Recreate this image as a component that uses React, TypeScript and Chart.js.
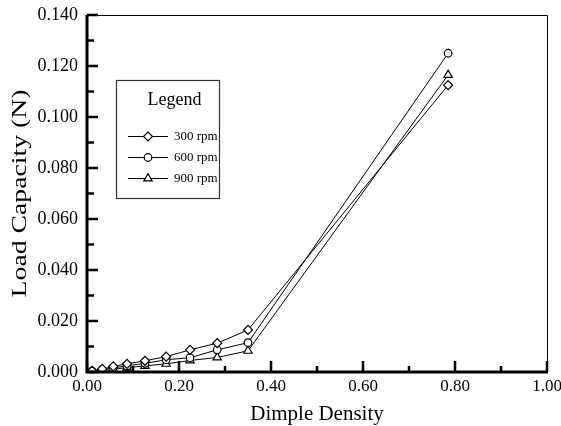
import React, { useEffect, useRef } from 'react';
import { Chart, registerables } from 'chart.js';

Chart.register(...registerables);

const densities = [0.011, 0.033, 0.057, 0.087, 0.126, 0.172, 0.224, 0.283, 0.35, 0.785];
const load300 = [0.0005, 0.0012, 0.0022, 0.0032, 0.0044, 0.006, 0.0087, 0.0113, 0.0165, 0.1125];
const load600 = [0.0003, 0.0009, 0.0016, 0.0024, 0.0034, 0.0048, 0.0056, 0.0087, 0.0115, 0.125];
const load900 = [0.0002, 0.0006, 0.0011, 0.0017, 0.0024, 0.0032, 0.0045, 0.0057, 0.0083, 0.1165];
const seriesLabels = ['300 rpm', '600 rpm', '900 rpm'];
const seriesMarkers = ['rectRot', 'circle', 'triangle'];
const markerRadius = [4.5, 3.8, 4.8];

const xTickValues = [0, 0.2, 0.4, 0.6, 0.8, 1.0];
const xMinorValues = [0.1, 0.3, 0.5, 0.7, 0.9];
const yTickValues = [0, 0.02, 0.04, 0.06, 0.08, 0.1, 0.12, 0.14];
const yMinorValues = [0.01, 0.03, 0.05, 0.07, 0.09, 0.11, 0.13];

const xTitle = 'Dimple Density';
const yTitle = 'Load Capacity (N)';
const legendTitle = 'Legend';

const FONT = "'Liberation Serif', 'Times New Roman', serif";

function drawMarker(ctx: CanvasRenderingContext2D, style: string, x: number, y: number, r: number) {
  ctx.beginPath();
  if (style === 'circle') {
    ctx.arc(x, y, r, 0, Math.PI * 2);
  } else if (style === 'rectRot') {
    ctx.moveTo(x, y - r);
    ctx.lineTo(x + r, y);
    ctx.lineTo(x, y + r);
    ctx.lineTo(x - r, y);
    ctx.closePath();
  } else {
    const h = r * 1.5;
    ctx.moveTo(x, y - r);
    ctx.lineTo(x + r * 0.87, y + h - r);
    ctx.lineTo(x - r * 0.87, y + h - r);
    ctx.closePath();
  }
  ctx.fill();
  ctx.stroke();
}

const framePlugin = {
  id: 'frame',
  afterDraw(chart: any) {
    const ctx = chart.ctx;
    const { left, right, top, bottom } = chart.chartArea;
    const xs = chart.scales.x;
    const ys = chart.scales.y;
    ctx.save();
    ctx.strokeStyle = '#000';
    ctx.fillStyle = '#000';
    ctx.lineWidth = 1;
    ctx.beginPath();
    ctx.moveTo(left, top + 0.5);
    ctx.lineTo(right + 0.5, top + 0.5);
    ctx.lineTo(right + 0.5, bottom);
    ctx.stroke();
    ctx.lineWidth = 3;
    ctx.beginPath();
    ctx.moveTo(left, top);
    ctx.lineTo(left, bottom);
    ctx.lineTo(right + 1, bottom);
    ctx.stroke();
    ctx.lineWidth = 2.5;
    yTickValues.forEach((v) => {
      const p = ys.getPixelForValue(v);
      ctx.beginPath();
      ctx.moveTo(left, p);
      ctx.lineTo(left + 11, p);
      ctx.stroke();
    });
    yMinorValues.forEach((v) => {
      const p = ys.getPixelForValue(v);
      ctx.beginPath();
      ctx.moveTo(left, p);
      ctx.lineTo(left + 7, p);
      ctx.stroke();
    });
    xTickValues.forEach((v) => {
      const p = xs.getPixelForValue(v);
      ctx.beginPath();
      ctx.moveTo(p, bottom);
      ctx.lineTo(p, bottom - 11);
      ctx.stroke();
    });
    xMinorValues.forEach((v) => {
      const p = xs.getPixelForValue(v);
      ctx.beginPath();
      ctx.moveTo(p, bottom);
      ctx.lineTo(p, bottom - 6);
      ctx.stroke();
    });

    ctx.textAlign = 'center';
    ctx.textBaseline = 'alphabetic';
    ctx.font = `21px ${FONT}`;
    ctx.fillText(xTitle, (left + right) / 2, 420);
    ctx.save();
    ctx.translate(26, (top + bottom) / 2);
    ctx.rotate(-Math.PI / 2);
    ctx.scale(1.32, 1);
    ctx.fillText(yTitle, 0, 0);
    ctx.restore();

    const bx = 116, by = 80, bw = 103, bh = 118;
    ctx.lineWidth = 1.2;
    ctx.strokeStyle = '#333';
    ctx.fillStyle = '#fff';
    ctx.fillRect(bx, by, bw, bh);
    ctx.strokeRect(bx + 0.5, by + 0.5, bw, bh);
    ctx.fillStyle = '#000';
    ctx.strokeStyle = '#000';
    ctx.font = `18px ${FONT}`;
    ctx.textAlign = 'center';
    ctx.fillText(legendTitle, bx + bw / 2 + 7, 105);
    ctx.font = `13px ${FONT}`;
    ctx.textAlign = 'left';
    ctx.textBaseline = 'middle';
    const rowY = [136, 157, 178];
    chart.data.datasets.forEach((ds: any, i: number) => {
      const y = rowY[i];
      ctx.lineWidth = 1;
      ctx.beginPath();
      ctx.moveTo(128, y + 0.5);
      ctx.lineTo(168, y + 0.5);
      ctx.stroke();
      ctx.fillStyle = '#fff';
      ctx.lineWidth = 1.2;
      drawMarker(ctx, ds.pointStyle, 148, y + 0.5, ds.pointRadius);
      ctx.fillStyle = '#000';
      ctx.fillText(ds.label, 174, y + 1);
    });
    ctx.restore();
  },
};

export default function App() {
  const ref = useRef<HTMLCanvasElement | null>(null);
  useEffect(() => {
    if (!ref.current) return;
    const series = [load300, load600, load900];
    const chart = new Chart(ref.current, {
      type: 'line',
      data: {
        datasets: series.map((vals, i) => ({
          label: seriesLabels[i],
          data: densities.map((d, j) => ({ x: d, y: vals[j] })),
          borderColor: '#000',
          borderWidth: 1,
          backgroundColor: '#fff',
          pointBackgroundColor: '#fff',
          pointBorderColor: '#000',
          pointBorderWidth: 1.2,
          pointStyle: seriesMarkers[i],
          pointRadius: markerRadius[i],
          tension: 0,
          fill: false,
        })),
      },
      options: {
        animation: false,
        responsive: false,
        events: [],
        layout: { padding: { left: 0, right: 14, top: 15, bottom: 0 } },
        plugins: { legend: { display: false }, tooltip: { enabled: false }, title: { display: false } },
        scales: {
          x: {
            type: 'linear',
            min: 0,
            max: 1,
            afterFit: (s: any) => {
              s.height = 54;
              s.paddingLeft = 0;
              s.paddingRight = 0;
            },
            afterBuildTicks: (s: any) => {
              s.ticks = xTickValues.map((v) => ({ value: v }));
            },
            ticks: {
              callback: (v: any) => Number(v).toFixed(2),
              font: { family: FONT, size: 17 },
              color: '#000',
              padding: 4,
              maxRotation: 0,
              autoSkip: false,
            },
            grid: { display: false, drawTicks: false },
            border: { display: false },
          },
          y: {
            type: 'linear',
            min: 0,
            max: 0.14,
            afterFit: (s: any) => {
              s.width = 87;
              s.paddingTop = 0;
              s.paddingBottom = 0;
            },
            afterBuildTicks: (s: any) => {
              s.ticks = yTickValues.map((v) => ({ value: v }));
            },
            ticks: {
              callback: (v: any) => Number(v).toFixed(3),
              font: { family: FONT, size: 18 },
              color: '#000',
              padding: 9,
              autoSkip: false,
            },
            grid: { display: false, drawTicks: false },
            border: { display: false },
          },
        },
      },
      plugins: [framePlugin],
    });
    return () => chart.destroy();
  }, []);
  return (
    <div style={{ position: 'absolute', left: 0, top: 0, width: 561, height: 426, background: '#fff' }}>
      <canvas ref={ref} width={561} height={426} />
    </div>
  );
}
